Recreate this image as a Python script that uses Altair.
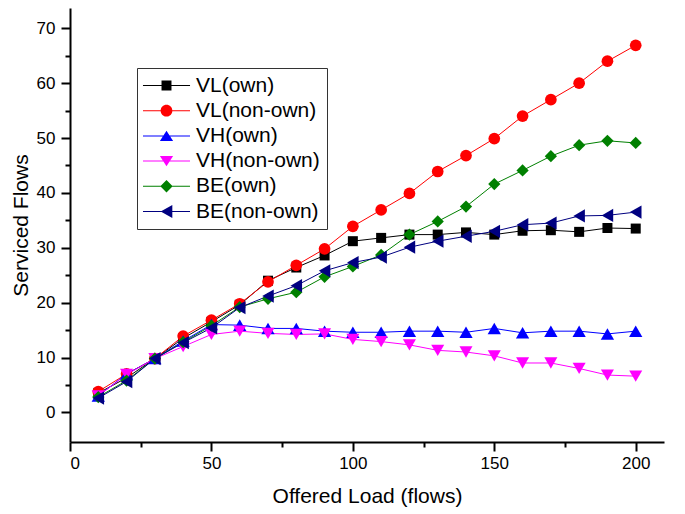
import altair as alt
import pandas as pd

# ---------------- data ----------------
offered_load = [10, 20, 30, 40, 50, 60, 70, 80, 90, 100,
                110, 120, 130, 140, 150, 160, 170, 180, 190, 200]

series_names = ["VL(own)", "VL(non-own)", "VH(own)", "VH(non-own)", "BE(own)", "BE(non-own)"]

vl_own = [3.5, 6.3, 9.8, 13.5, 16.5, 19.6, 24.0, 26.4, 28.6, 31.2,
          31.8, 32.4, 32.4, 32.8, 32.4, 33.1, 33.2, 32.9, 33.6, 33.5]
vl_non_own = [3.8, 7.0, 9.8, 13.9, 16.8, 19.8, 23.8, 26.8, 29.8, 33.9,
              36.9, 39.9, 43.9, 46.8, 49.9, 54.0, 57.0, 60.0, 64.0, 66.9]
vh_own = [3.0, 7.0, 9.8, 13.0, 16.0, 15.9, 15.3, 15.3, 14.8, 14.6,
          14.6, 14.8, 14.8, 14.6, 15.3, 14.5, 14.8, 14.8, 14.3, 14.8]
vh_non_own = [3.0, 6.9, 9.8, 12.0, 14.2, 14.8, 14.4, 14.2, 14.3, 13.3,
              12.9, 12.3, 11.3, 11.0, 10.3, 9.0, 9.0, 8.0, 6.8, 6.6]
be_own = [2.8, 5.8, 9.8, 12.8, 15.8, 19.2, 20.7, 21.9, 24.7, 26.6,
          28.7, 32.4, 34.8, 37.5, 41.6, 44.1, 46.7, 48.7, 49.5, 49.1]
be_non_own = [2.6, 5.6, 9.8, 12.7, 15.4, 19.1, 21.2, 23.1, 25.8, 27.3,
              28.3, 30.1, 31.2, 32.1, 33.0, 34.2, 34.5, 35.8, 35.9, 36.5]

series_values = [vl_own, vl_non_own, vh_own, vh_non_own, be_own, be_non_own]

x_ticks = [0, 25, 50, 75, 100, 125, 150, 175, 200]
y_ticks = [0, 5, 10, 15, 20, 25, 30, 35, 40, 45, 50, 55, 60, 65, 70]

# ---------------- styles ----------------
series_colors = ["#000000", "#FF0000", "#0000FF", "#FF00FF", "#008000", "#000080"]
point_shapes = ["square", "circle", "triangle-up", "triangle-down", "diamond", "triangle-left"]
point_sizes = [100, 137, 177, 170, 150, 177]
# legend glyphs: a thin line through the marker (units scaled by sqrt(size)/2 = 6px)
LINE = "M-3.92,-0.085H3.92V0.085H-3.92Z"
legend_glyphs = [
    LINE + "M-0.83,-0.83H0.83V0.83H-0.83Z",
    LINE + "M0.975,0A0.975,0.975,0,1,1,-0.975,0A0.975,0.975,0,1,1,0.975,0Z",
    LINE + "M0,-0.85L1.1,0.85L-1.1,0.85Z",
    LINE + "M0,0.85L-1.1,-0.85L1.1,-0.85Z",
    LINE + "M0,-1.03L1.03,0L0,1.03L-1.03,0Z",
    LINE + "M-0.97,0L0.97,-1.1L0.97,1.1Z",
]

rows = []
for name, vals in zip(series_names, series_values):
    for xv, yv in zip(offered_load, vals):
        rows.append({"load": xv, "flows": yv, "series": name})
df = pd.DataFrame(rows)

FONT = "Liberation Sans"

x_enc = alt.X(
    "load:Q",
    scale=alt.Scale(domain=[0, 210], nice=False, zero=False),
    axis=alt.Axis(
        values=x_ticks,
        labelExpr="datum.value % 50 === 0 ? datum.label : ''",
        tickSize={"condition": {"test": "datum.value % 50 === 0", "value": 9}, "value": 5},
        labelPadding=4,
        titlePadding=14,
        title="Offered Load (flows)",
    ),
)
y_enc = alt.Y(
    "flows:Q",
    scale=alt.Scale(domain=[-5.4, 73.7], nice=False, zero=False),
    axis=alt.Axis(
        values=y_ticks,
        labelExpr="datum.value % 10 === 0 ? datum.label : ''",
        tickSize={"condition": {"test": "datum.value % 10 === 0", "value": 9}, "value": 5},
        labelPadding=6,
        titlePadding=5,
        title="Serviced Flows",
    ),
)

color_scale = alt.Scale(domain=series_names, range=series_colors)

legend_def = alt.Legend(
    title=None,
    orient="none",
    legendX=67,
    legendY=60,
    padding=7,
    strokeColor="#333333",
    fillColor="white",
    labelFont=FONT,
    labelFontSize=21,
    labelColor="black",
    labelOffset=19,
    labelLimit=0,
    rowPadding=3.2,
    symbolSize=144,
    symbolOffset=12,
    symbolStrokeWidth=0,
    symbolOpacity=1,
)

base = alt.Chart(df)

# legend source first (its explicit legend wins the merge); it draws no marks
layers = [
    base.transform_filter("datum.load < 0")
    .mark_point(filled=True, size=144, opacity=1)
    .encode(
        x=x_enc,
        y=y_enc,
        color=alt.Color("series:N", scale=color_scale, legend=legend_def),
        shape=alt.Shape("series:N", scale=alt.Scale(domain=series_names, range=legend_glyphs),
                        legend=legend_def),
    ),
    base.mark_line(strokeWidth=1).encode(
        x=x_enc,
        y=y_enc,
        color=alt.Color("series:N", scale=color_scale, legend=None),
    ),
]

for name, shp, sz in zip(series_names, point_shapes, point_sizes):
    layers.append(
        base.transform_filter(alt.datum.series == name)
        .mark_point(filled=True, shape=shp, size=sz, opacity=1)
        .encode(
            x=x_enc,
            y=y_enc,
            color=alt.Color("series:N", scale=color_scale, legend=None),
        )
    )

chart = (
    alt.layer(*layers)
    .properties(
        width=594,
        height=434,
        autosize="none",
        padding={"left": 62, "top": 0, "right": 10, "bottom": 70},
    )
    .configure_view(stroke=None)
    .configure_axis(
        grid=False,
        domainColor="black",
        domainWidth=2,
        tickColor="black",
        tickWidth=2,
        labelFont=FONT,
        labelFontSize=17,
        labelColor="black",
        titleFont=FONT,
        titleFontSize=21,
        titleFontWeight="normal",
        titleColor="black",
    )
)

chart.save("out.html", embed_options={"renderer": "svg", "actions": False})
